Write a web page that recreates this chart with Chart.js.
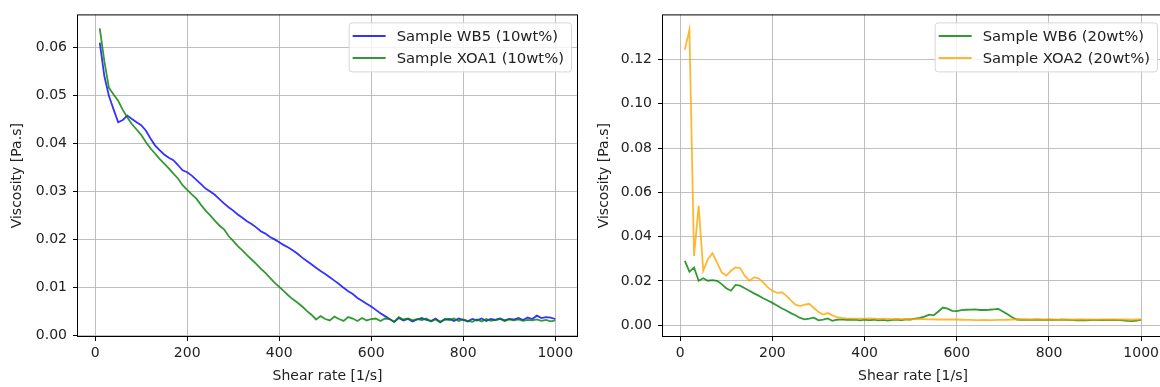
<!DOCTYPE html>
<html>
<head>
<meta charset="utf-8">
<script src="https://cdn.jsdelivr.net/npm/chart.js@4.4.0/dist/chart.umd.min.js"></script>
<style>
  html, body { margin: 0; padding: 0; background: #fff; overflow: hidden; }
  #left { position: absolute; left: 0; top: 0; }
  #right { position: absolute; left: 580px; top: 0; }
</style>
</head>
<body>
<canvas id="left" width="580" height="387"></canvas>
<canvas id="right" width="586" height="387"></canvas>
<script>
// shear rate [1/s]
const shearRate = [
  10, 20, 30, 40, 50, 60, 70, 80, 90, 100,
  110, 120, 130, 140, 150, 160, 170, 180, 190, 200,
  210, 220, 230, 240, 250, 260, 270, 280, 290, 300,
  310, 320, 330, 340, 350, 360, 370, 380, 390, 400,
  410, 420, 430, 440, 450, 460, 470, 480, 490, 500,
  510, 520, 530, 540, 550, 560, 570, 580, 590, 600,
  610, 620, 630, 640, 650, 660, 670, 680, 690, 700,
  710, 720, 730, 740, 750, 760, 770, 780, 790, 800,
  810, 820, 830, 840, 850, 860, 870, 880, 890, 900,
  910, 920, 930, 940, 950, 960, 970, 980, 990, 1000
];

// viscosity [Pa.s]
const wb5 = [
  0.0610, 0.0540, 0.0499, 0.0471, 0.0444, 0.0449, 0.0458, 0.0451, 0.0444, 0.0438,
  0.0427, 0.0411, 0.0396, 0.0386, 0.0377, 0.0370, 0.0365, 0.0355, 0.0344, 0.0340,
  0.0333, 0.0324, 0.0315, 0.0306, 0.0300, 0.0293, 0.0284, 0.0275, 0.0267, 0.0260,
  0.0252, 0.0245, 0.0238, 0.0232, 0.0225, 0.0217, 0.0212, 0.0205, 0.0200, 0.0194,
  0.0188, 0.0183, 0.0177, 0.0170, 0.0162, 0.0155, 0.0148, 0.0141, 0.0134, 0.0128,
  0.0121, 0.0114, 0.0107, 0.0099, 0.0092, 0.0086, 0.0078, 0.0072, 0.0066, 0.0060,
  0.0053, 0.0046, 0.0040, 0.0034, 0.0028, 0.0036, 0.0031, 0.0034, 0.0029, 0.0033,
  0.0036, 0.0032, 0.0030, 0.0035, 0.0028, 0.0033, 0.0034, 0.0030, 0.0035, 0.0032,
  0.0029, 0.0034, 0.0031, 0.0035, 0.0030, 0.0034, 0.0032, 0.0035, 0.0031, 0.0034,
  0.0033, 0.0036, 0.0032, 0.0037, 0.0034, 0.0041, 0.0036, 0.0038, 0.0037, 0.0034
];
const xoa1 = [
  0.0640, 0.0571, 0.0516, 0.0502, 0.0489, 0.0470, 0.0454, 0.0440, 0.0429, 0.0418,
  0.0403, 0.0390, 0.0379, 0.0368, 0.0358, 0.0348, 0.0337, 0.0327, 0.0313, 0.0303,
  0.0294, 0.0285, 0.0272, 0.0260, 0.0250, 0.0239, 0.0229, 0.0221, 0.0207, 0.0197,
  0.0186, 0.0177, 0.0167, 0.0158, 0.0149, 0.0139, 0.0130, 0.0120, 0.0110, 0.0101,
  0.0092, 0.0083, 0.0075, 0.0068, 0.0060, 0.0051, 0.0043, 0.0033, 0.0040, 0.0034,
  0.0031, 0.0039, 0.0034, 0.0030, 0.0038, 0.0035, 0.0030, 0.0036, 0.0031, 0.0034,
  0.0035, 0.0030, 0.0035, 0.0034, 0.0028, 0.0038, 0.0033, 0.0035, 0.0031, 0.0034,
  0.0032, 0.0035, 0.0029, 0.0033, 0.0027, 0.0034, 0.0032, 0.0035, 0.0030, 0.0033,
  0.0030, 0.0028, 0.0033, 0.0029, 0.0034, 0.0030, 0.0032, 0.0034, 0.0030, 0.0033,
  0.0031, 0.0033, 0.0030, 0.0032, 0.0031, 0.0033, 0.0030, 0.0032, 0.0029, 0.0031
];
const wb6 = [
  0.0291, 0.0242, 0.0261, 0.0201, 0.0212, 0.0201, 0.0204, 0.0201, 0.0186, 0.0167,
  0.0156, 0.0182, 0.0179, 0.0167, 0.0156, 0.0144, 0.0134, 0.0122, 0.0112, 0.0101,
  0.0089, 0.0077, 0.0067, 0.0055, 0.0045, 0.0033, 0.0027, 0.0030, 0.0034, 0.0022,
  0.0025, 0.0031, 0.0020, 0.0025, 0.0027, 0.0024, 0.0026, 0.0025, 0.0022, 0.0025,
  0.0023, 0.0025, 0.0022, 0.0024, 0.0021, 0.0024, 0.0026, 0.0023, 0.0027, 0.0026,
  0.0030, 0.0033, 0.0039, 0.0048, 0.0045, 0.0062, 0.0080, 0.0075, 0.0065, 0.0064,
  0.0068, 0.0070, 0.0071, 0.0072, 0.0069, 0.0069, 0.0070, 0.0072, 0.0074, 0.0062,
  0.0050, 0.0036, 0.0026, 0.0025, 0.0025, 0.0024, 0.0025, 0.0025, 0.0024, 0.0025,
  0.0024, 0.0024, 0.0025, 0.0024, 0.0023, 0.0022, 0.0023, 0.0022, 0.0023, 0.0024,
  0.0023, 0.0024, 0.0023, 0.0024, 0.0023, 0.0022, 0.0020, 0.0019, 0.0021, 0.0024
];
const xoa2 = [
  0.1245, 0.1335, 0.0313, 0.0540, 0.0246, 0.0298, 0.0325, 0.0283, 0.0239, 0.0224,
  0.0246, 0.0261, 0.0258, 0.0224, 0.0201, 0.0216, 0.0212, 0.0194, 0.0171, 0.0156,
  0.0146, 0.0149, 0.0134, 0.0112, 0.0093, 0.0087, 0.0093, 0.0097, 0.0078, 0.0060,
  0.0048, 0.0055, 0.0045, 0.0037, 0.0033, 0.0031, 0.0030, 0.0030, 0.0030, 0.0030,
  0.0031, 0.0030, 0.0029, 0.0030, 0.0029, 0.0028, 0.0029, 0.0028, 0.0029, 0.0028,
  0.0028, 0.0029, 0.0028, 0.0027, 0.0027, 0.0026, 0.0026, 0.0027, 0.0026, 0.0026,
  0.0025, 0.0024, 0.0024, 0.0023, 0.0023, 0.0024, 0.0023, 0.0023, 0.0024, 0.0024,
  0.0025, 0.0026, 0.0027, 0.0027, 0.0026, 0.0027, 0.0026, 0.0026, 0.0027, 0.0026,
  0.0026, 0.0025, 0.0026, 0.0026, 0.0025, 0.0026, 0.0027, 0.0026, 0.0026, 0.0025,
  0.0026, 0.0026, 0.0027, 0.0026, 0.0026, 0.0027, 0.0026, 0.0025, 0.0026, 0.0026
];

const xTicks = [0, 200, 400, 600, 800, 1000];
const yTicksLeft = [0, 0.01, 0.02, 0.03, 0.04, 0.05, 0.06];
const yTicksRight = [0, 0.02, 0.04, 0.06, 0.08, 0.10, 0.12];

const FONT = { family: 'DejaVu Sans', size: 14 };
const TEXT = '#222';

// matplotlib-like box + legend inside the plot
const boxAndLegend = {
  id: 'boxAndLegend',
  afterDatasetsDraw(chart) {
    const { ctx, chartArea: a } = chart;
    ctx.save();
    ctx.strokeStyle = '#000';
    ctx.lineWidth = 1;
    ctx.strokeRect(a.left + 0.5, a.top + 0.5, a.right - a.left - 1, a.bottom - a.top - 1);

    const sets = chart.data.datasets;
    ctx.font = '14.8px "DejaVu Sans"';
    const tw = Math.max(...sets.map(d => ctx.measureText(d.label).width));
    const w = 4 + 33 + 11 + tw + 7, h = 49;
    const x1 = a.right - 7 - w, y1 = a.top + 8;
    ctx.beginPath();
    ctx.roundRect(x1 + 0.5, y1 + 0.5, w, h, 3);
    ctx.fillStyle = 'rgba(255,255,255,0.8)';
    ctx.fill();
    ctx.strokeStyle = '#d6d6d6';
    ctx.stroke();
    ctx.textBaseline = 'middle';
    sets.forEach((d, i) => {
      const y = y1 + 13.5 + i * 22;
      ctx.strokeStyle = d.borderColor;
      ctx.lineWidth = 2;
      ctx.beginPath();
      ctx.moveTo(x1 + 4, y);
      ctx.lineTo(x1 + 37, y);
      ctx.stroke();
      ctx.fillStyle = TEXT;
      ctx.fillText(d.label, x1 + 48, y + 1);
    });
    ctx.restore();
  }
};

function makeChart(id, sets, yMin, yMax, yTicks, yWidth, yTitlePad, padRight) {
  new Chart(document.getElementById(id), {
    type: 'line',
    data: {
      datasets: sets.map((s, i) => ({
        label: s.label,
        data: shearRate.map((x, k) => ({ x: x, y: s.values[k] })),
        borderColor: s.color,
        borderWidth: 1.8,
        pointRadius: 0,
        fill: false,
        tension: 0,
        order: sets.length - i
      }))
    },
    options: {
      responsive: false,
      animation: false,
      events: [],
      layout: { padding: { top: 11, right: padRight, left: 0, bottom: 0 } },
      plugins: { legend: { display: false }, tooltip: { enabled: false } },
      scales: {
        x: {
          type: 'linear',
          min: -39.5,
          max: 1049.5,
          afterBuildTicks: s => { s.ticks = xTicks.map(v => ({ value: v })); },
          afterFit: s => { s.height = 50; },
          ticks: { font: FONT, color: TEXT, padding: 4, maxRotation: 0, autoSkip: false,
                   callback: v => String(v) },
          grid: { color: '#b0b0b0', lineWidth: 0.8, tickLength: 4, tickColor: '#000', tickWidth: 1 },
          border: { display: false },
          title: { display: true, text: 'Shear rate [1/s]', font: FONT, color: TEXT,
                   padding: { top: 0, bottom: 2 } }
        },
        y: {
          min: yMin,
          max: yMax,
          afterBuildTicks: s => { s.ticks = yTicks.map(v => ({ value: v })); },
          afterFit: s => { s.width = yWidth; },
          ticks: { font: FONT, color: TEXT, padding: 6, autoSkip: false,
                   callback: v => v.toFixed(2) },
          grid: { color: '#b0b0b0', lineWidth: 0.8, tickLength: 4, tickColor: '#000', tickWidth: 1 },
          border: { display: false },
          title: { display: true, text: 'Viscosity [Pa.s]', font: FONT, color: TEXT,
                   padding: { top: yTitlePad, bottom: 0 } }
        }
      }
    },
    plugins: [boxAndLegend]
  });
}

makeChart('left', [
  { label: 'Sample WB5 (10wt%)', values: wb5, color: 'rgba(0,0,255,0.8)' },
  { label: 'Sample XOA1 (10wt%)', values: xoa1, color: 'rgba(0,128,0,0.8)' }
], -0.00035, 0.0669, yTicksLeft, 77, 9, 2);

makeChart('right', [
  { label: 'Sample WB6 (20wt%)', values: wb6, color: 'rgba(0,128,0,0.8)' },
  { label: 'Sample XOA2 (20wt%)', values: xoa2, color: 'rgba(255,165,0,0.8)' }
], -0.0053, 0.1404, yTicksRight, 82, 16, 2);
</script>
</body>
</html>
